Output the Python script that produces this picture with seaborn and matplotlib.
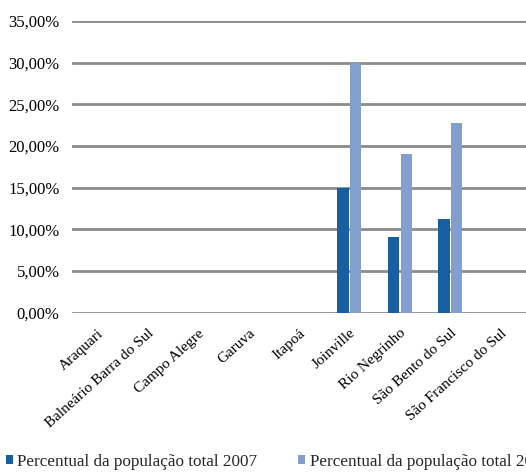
import pandas as pd
import seaborn as sns
import matplotlib.pyplot as plt
from matplotlib.ticker import FuncFormatter

municipios = ["Araquari", "Balneário Barra do Sul", "Campo Alegre", "Garuva", "Itapoá",
              "Joinville", "Rio Negrinho", "São Bento do Sul", "São Francisco do Sul"]
pct_2007 = [0, 0, 0, 0, 0, 0.150, 0.091, 0.112, 0]
pct_2010 = [0, 0, 0, 0, 0, 0.300, 0.191, 0.227, 0]
series = ["Percentual da população total 2007", "Percentual da população total 2010"]

df = pd.DataFrame({
    "municipio": municipios * 2,
    "valor": pct_2007 + pct_2010,
    "serie": [series[0]] * len(municipios) + [series[1]] * len(municipios),
})

sns.set_theme(style="white")
plt.rcParams["font.family"] = ["Liberation Serif", "DejaVu Serif"]

fig = plt.figure(figsize=(5.26, 4.74), dpi=100)
ax = fig.add_axes([0.137, 0.34, 0.863, 0.616])
sns.barplot(data=df, x="municipio", y="valor", hue="serie",
            palette=["#175EA2", "#819FCF"], saturation=1, width=0.5, gap=0.1,
            linewidth=0, ax=ax)

ax.set_ylim(0, 0.35)
ax.set_yticks([i * 0.05 for i in range(8)])
ax.yaxis.set_major_formatter(FuncFormatter(lambda v, p: f"{v*100:.2f}%".replace(".", ",")))
ax.grid(axis="y", color="#8c8c8c", linewidth=2)
ax.set_axisbelow(True)
for s in ax.spines.values():
    s.set_visible(False)
ax.tick_params(axis="y", length=0, labelsize=12, colors="black", pad=9)
ax.tick_params(axis="x", length=0, labelsize=11, colors="black", pad=10)
plt.setp(ax.get_xticklabels(), rotation=42, ha="right", rotation_mode="anchor")
ax.set_xlabel("")
ax.set_ylabel("")

handles, labels = ax.get_legend_handles_labels()
ax.get_legend().remove()
fig.legend(handles, labels, loc="lower left", bbox_to_anchor=(0.004, 0.002), ncol=2,
           frameon=False, fontsize=12.3, handlelength=0.45, handleheight=0.45,
           handletextpad=0.25, columnspacing=2.35, borderpad=0.2, borderaxespad=0)

fig.savefig("out.png", dpi=100)
